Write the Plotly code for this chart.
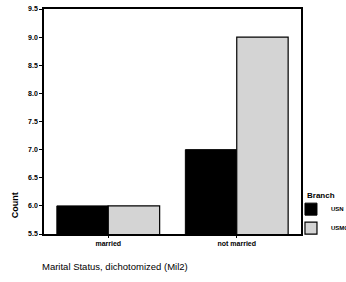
import plotly.graph_objects as go

categories = ["married", "not married"]
usn_counts = [6.0, 7.0]
usmc_counts = [6.0, 9.0]
y_ticks = [5.5, 6.0, 6.5, 7.0, 7.5, 8.0, 8.5, 9.0, 9.5]

FONT = "Liberation Sans, Arial, sans-serif"

fig = go.Figure()
fig.add_trace(go.Bar(
    x=categories, y=usn_counts, name="<b>USN</b>",
    marker=dict(color="black", line=dict(color="black", width=1)),
))
fig.add_trace(go.Bar(
    x=categories, y=usmc_counts, name="<b>USMC</b>",
    marker=dict(color="white", line=dict(color="black", width=1.2),
                pattern=dict(shape=".", fgcolor="#3a3a3a", bgcolor="white", size=2, solidity=0.5)),
))

fig.update_layout(
    width=346, height=282,
    margin=dict(l=44, r=45, t=9, b=48, autoexpand=False),
    paper_bgcolor="white", plot_bgcolor="white",
    barmode="group", bargap=0.2, bargroupgap=0,
    font=dict(family=FONT, size=7, color="black"),
    showlegend=True,
    legend=dict(
        x=0.961, xanchor="left", y=0.175, yanchor="top",
        font=dict(size=6, family=FONT),
        itemwidth=30, tracegroupgap=0,
        bgcolor="rgba(0,0,0,0)",
    ),
    annotations=[
        dict(text="Marital Status, dichotomized (Mil2)", xref="paper", yref="paper",
             x=0.276, y=-0.11, xanchor="center", yanchor="top", showarrow=False,
             font=dict(size=9.5, family=FONT)),
        dict(text="<b>Branch</b>", xref="paper", yref="paper",
             x=1.016, y=0.169, xanchor="left", yanchor="middle", showarrow=False,
             font=dict(size=8, family=FONT)),
        dict(text="<b>Count</b>", xref="paper", yref="paper",
             x=-0.115, y=0.13, xanchor="center", yanchor="middle", showarrow=False,
             textangle=-90, font=dict(size=9, family=FONT)),
    ],
)
fig.update_xaxes(
    tickvals=categories, ticktext=[f"<b>{c}</b>" for c in categories],
    showline=True, linecolor="black", linewidth=1.5, mirror=True,
    ticks="outside", ticklen=2, tickcolor="black",
    tickfont=dict(size=7),
)
fig.update_yaxes(
    range=[5.5, 9.5], tickvals=y_ticks, ticktext=[f"<b>{v:.1f}</b>" for v in y_ticks],
    showline=True, linecolor="black", linewidth=1.5, mirror=True,
    ticks="outside", ticklen=3, tickcolor="black",
    showgrid=False, zeroline=False,
    tickfont=dict(size=7),
)

fig.write_html("out.html", config={"displayModeBar": False},
               post_script="document.body.style.margin='0';document.body.style.overflow='hidden';")
